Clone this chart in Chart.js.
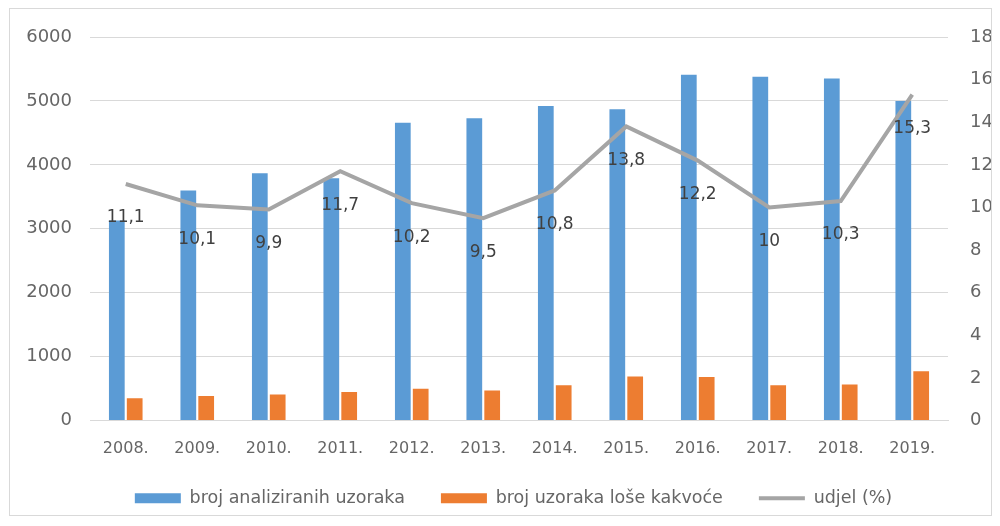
<!DOCTYPE html>
<html>
<head>
<meta charset="utf-8">
<script src="https://cdn.jsdelivr.net/npm/chart.js@4"></script>
<style>
  html, body { margin: 0; padding: 0; background: #fff; }
  #wrap { position: relative; width: 1000px; height: 526px; }
  #frame { position: absolute; left: 9px; top: 8px; width: 983px; height: 508px;
           border: 1px solid #d9d9d9; box-sizing: border-box; pointer-events: none; }
</style>
</head>
<body>
<div id="wrap">
  <canvas id="chart" width="1000" height="526"></canvas>
  <div id="frame"></div>
</div>
<script>
// podaci očitani s grafikona
const years = ['2008.', '2009.', '2010.', '2011.', '2012.', '2013.', '2014.', '2015.', '2016.', '2017.', '2018.', '2019.'];
const analyzed = [3130, 3600, 3870, 3790, 4660, 4730, 4920, 4870, 5410, 5380, 5350, 5000];
const badQuality = [350, 385, 405, 445, 495, 470, 550, 690, 680, 550, 565, 770];
const share = [11.1, 10.1, 9.9, 11.7, 10.2, 9.5, 10.8, 13.8, 12.2, 10, 10.3, 15.3];

const FONT = 'DejaVu Sans';
const TICK_COLOR = '#666666';

// oznake postotaka ispod točaka linije
const shareLabels = {
  id: 'shareLabels',
  afterDatasetsDraw(chart) {
    const meta = chart.getDatasetMeta(2);
    const ctx = chart.ctx;
    ctx.save();
    ctx.font = '17px "' + FONT + '"';
    ctx.fillStyle = '#404040';
    ctx.textAlign = 'center';
    ctx.textBaseline = 'middle';
    meta.data.forEach((pt, i) => {
      ctx.fillText(String(share[i]).replace('.', ','), pt.x, pt.y + 34);
    });
    ctx.restore();
  }
};

new Chart(document.getElementById('chart'), {
  data: {
    labels: years,
    datasets: [
      { type: 'bar', label: 'broj analiziranih uzoraka', data: analyzed, backgroundColor: '#5B9BD5',
        yAxisID: 'y', categoryPercentage: 0.5, barPercentage: 0.88, pointStyle: 'rect', order: 2 },
      { type: 'bar', label: 'broj uzoraka loše kakvoće', data: badQuality, backgroundColor: '#ED7D31',
        yAxisID: 'y', categoryPercentage: 0.5, barPercentage: 0.88, pointStyle: 'rect', order: 2 },
      { type: 'line', label: 'udjel (%)', data: share, borderColor: '#A5A5A5', backgroundColor: '#A5A5A5',
        borderWidth: 4, pointRadius: 0, tension: 0, yAxisID: 'y1', pointStyle: 'line', order: 1 }
    ]
  },
  options: {
    responsive: false,
    animation: false,
    layout: { padding: { top: 37, bottom: 9, left: 27, right: 0 } },
    plugins: {
      tooltip: { enabled: false },
      legend: {
        position: 'bottom',
        labels: {
          usePointStyle: true,
          pointStyleWidth: 46,
          boxWidth: 46,
          boxHeight: 10,
          padding: 36,
          color: TICK_COLOR,
          font: { family: FONT, size: 17.5 },
          sort: (a, b) => a.datasetIndex - b.datasetIndex
        }
      }
    },
    scales: {
      x: {
        grid: { display: false },
        border: { color: '#d9d9d9' },
        ticks: { color: TICK_COLOR, font: { family: FONT, size: 16 }, padding: 11, maxRotation: 0 },
        afterFit(scale) { scale.height = 33; }
      },
      y: {
        position: 'left',
        min: 0, max: 6000,
        ticks: { stepSize: 1000, color: TICK_COLOR, font: { family: FONT, size: 18 }, padding: 18,
                 callback: v => String(v) },
        grid: { color: '#d9d9d9', drawTicks: false },
        border: { display: false },
        afterFit(scale) { scale.width = 63; }
      },
      y1: {
        position: 'right',
        min: 0, max: 18,
        ticks: { stepSize: 2, color: TICK_COLOR, font: { family: FONT, size: 18 }, padding: 22 },
        grid: { display: false, drawTicks: false },
        border: { display: false },
        afterFit(scale) { scale.width = 52; }
      }
    }
  },
  plugins: [shareLabels]
});
</script>
</body>
</html>
